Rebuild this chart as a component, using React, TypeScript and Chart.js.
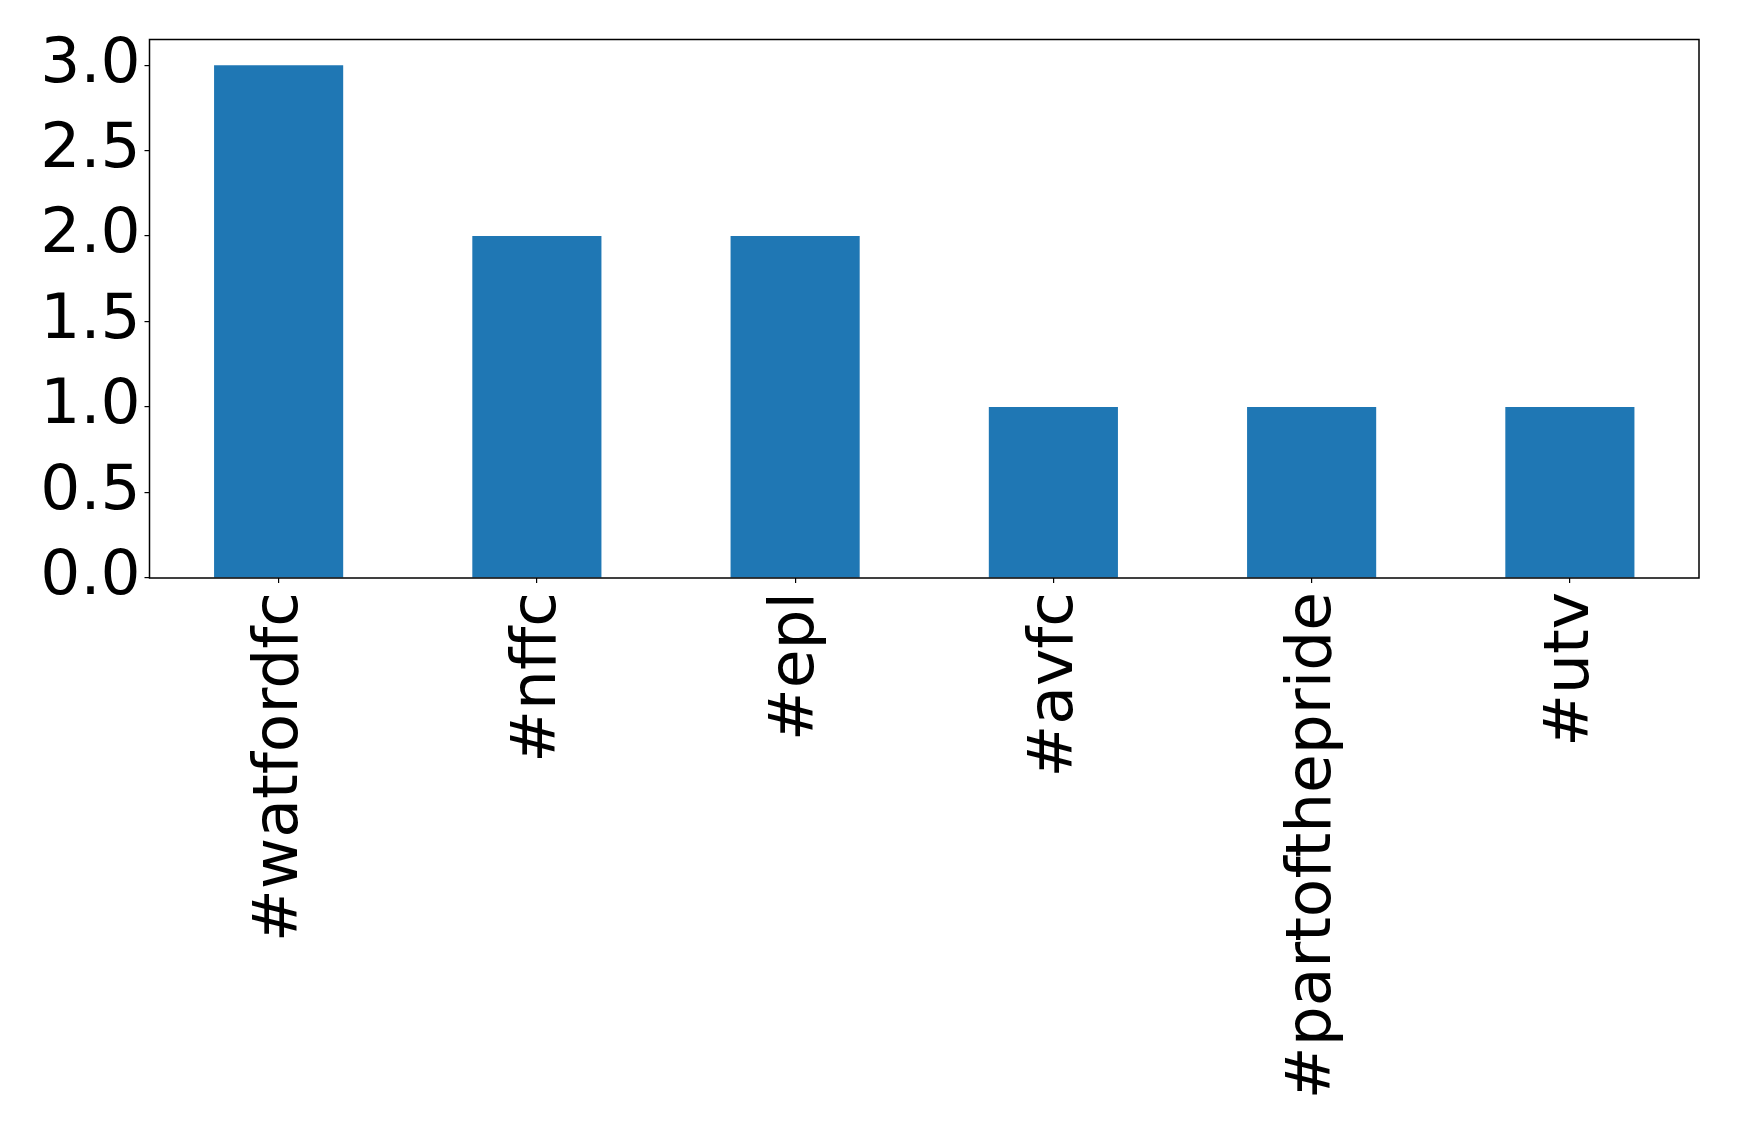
import React, { useEffect, useRef } from "react";
import { Chart, registerables } from "chart.js";

Chart.register(...registerables);

const categories = ["#watfordfc", "#nffc", "#epl", "#avfc", "#partofthepride", "#utv"];
const counts = [3, 2, 2, 1, 1, 1];
const yTickValues = [0, 0.5, 1.0, 1.5, 2.0, 2.5, 3.0];

const W = 1739;
const H = 1131;
const FONT = "'DejaVu Sans', sans-serif";

const frame = {
  id: "frame",
  afterDraw(chart: any) {
    const { ctx, chartArea } = chart;
    ctx.save();
    ctx.strokeStyle = "#000";
    ctx.lineWidth = 1.5;
    ctx.strokeRect(chartArea.left, chartArea.top, chartArea.right - chartArea.left, chartArea.bottom - chartArea.top);
    ctx.restore();
  },
};

export default function App() {
  const ref = useRef<HTMLCanvasElement | null>(null);
  useEffect(() => {
    if (!ref.current) return;
    const chart = new Chart(ref.current, {
      type: "bar",
      data: {
        labels: categories,
        datasets: [
          {
            data: counts,
            backgroundColor: "#1f77b4",
            barPercentage: 0.5,
            categoryPercentage: 1,
          },
        ],
      },
      options: {
        animation: false,
        responsive: false,
        devicePixelRatio: 1,
        layout: { padding: { left: 0, top: 39.5, right: 40, bottom: 0 } },
        plugins: { legend: { display: false }, tooltip: { enabled: false } },
        scales: {
          x: {
            offset: true,
            grid: { display: true, drawOnChartArea: false, color: "#000", tickLength: 5, offset: false, lineWidth: 1.2 },
            border: { display: false },
            ticks: {
              color: "#000",
              font: { family: FONT, size: 63 },
              maxRotation: 90,
              minRotation: 90,
              autoSkip: false,
              padding: 9,
              labelOffset: 2,
            },
            afterFit(scale: any) {
              scale.height = H - 578;
              scale.paddingLeft = 0;
              scale.paddingRight = 0;
            },
          },
          y: {
            min: 0,
            max: 3.15,
            afterBuildTicks(scale: any) {
              scale.ticks = yTickValues.map((v) => ({ value: v }));
            },
            grid: { display: true, drawOnChartArea: false, color: "#000", tickLength: 5, lineWidth: 1.2 },
            border: { display: false },
            ticks: {
              color: "#000",
              font: { family: FONT, size: 63 },
              padding: 4,
              callback: (v: any) => Number(v).toFixed(1),
            },
            afterFit(scale: any) {
              scale.width = 149.5;
              scale.paddingTop = 0;
              scale.paddingBottom = 0;
            },
          },
        },
      },
      plugins: [frame],
    });
    return () => chart.destroy();
  }, []);
  return (
    <div style={{ position: "absolute", left: 0, top: 0, width: W, height: H, background: "#fff" }}>
      <canvas ref={ref} width={W} height={H} style={{ width: W, height: H, display: "block" }} />
    </div>
  );
}
